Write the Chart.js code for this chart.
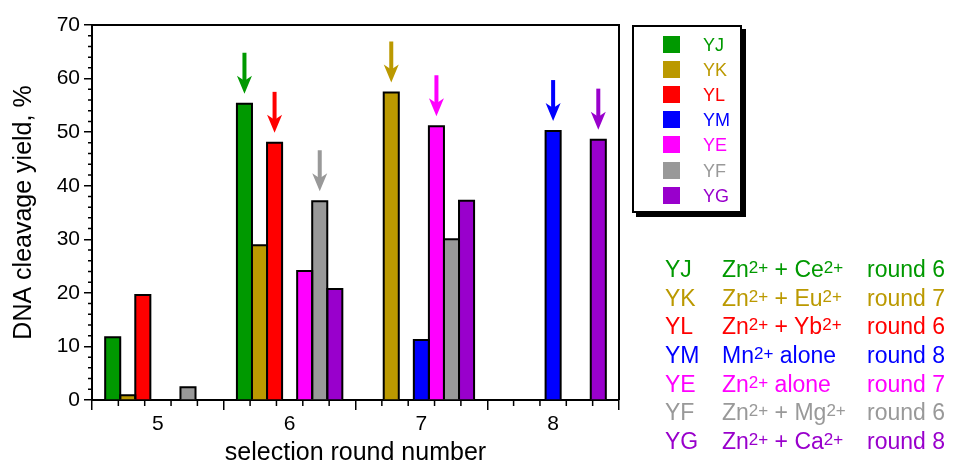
<!DOCTYPE html>
<html>
<head>
<meta charset="utf-8">
<script src="https://cdn.jsdelivr.net/npm/chart.js@4.4.1/dist/chart.umd.min.js"></script>
<style>
    html, body { margin: 0; padding: 0; background: #fff; }
    body { width: 953px; height: 464px; position: relative; overflow: hidden; font-family: "Liberation Sans", Arial, sans-serif; }
    #chart { position: absolute; left: 0; top: 0; }
    #legend { position: absolute; left: 632px; top: 25px; width: 106px; height: 184px; border: 2px solid #000; box-shadow: 4px 4px 0 #000; background: #fff; }
    .sw { position: absolute; left: 29px; width: 17px; height: 17px; }
    .lt { position: absolute; left: 69px; font-size: 18px; line-height: 17px; }
    .row { position: absolute; left: 0; font-size: 23px; line-height: 28px; white-space: nowrap; }
    .row span { position: absolute; top: 0; }
    sup { font-size: 17px; position: relative; top: -4px; vertical-align: baseline; line-height: 0; }
</style>
</head>
<body>
<canvas id="chart" width="953" height="464"></canvas>
<div id="legend"></div>
<div id="table"></div>
<script>
const rounds = ["5", "6", "7", "8"];
const codes = ["YJ", "YK", "YL", "YM", "YE", "YF", "YG"];
const colors = ["#009900", "#bb9900", "#ff0000", "#0000ff", "#ff00ff", "#999999", "#9900cc"];

// cleavage yield (%) per round; null = no bar
const yjYield = [11.7, 55.3, null, null];
const ykYield = [0.9, 28.9, 57.4, null];
const ylYield = [19.6, 48.0, null, null];
const ymYield = [null, null, 11.2, 50.2];
const yeYield = [null, 24.1, 51.1, null];
const yfYield = [2.4, 37.1, 30.0, null];
const ygYield = [null, 20.7, 37.2, 48.6];

// metal ions used and the round that was picked (arrow)
const ions = [["Zn", "Ce"], ["Zn", "Eu"], ["Zn", "Yb"], ["Mn"], ["Zn"], ["Zn", "Mg"], ["Zn", "Ca"]];
const picks = ["6", "7", "6", "8", "7", "6", "8"];

const yTicks = [0, 10, 20, 30, 40, 50, 60, 70];

const series = [yjYield, ykYield, ylYield, ymYield, yeYield, yfYield, ygYield];

// black outline round each bar, one shared line between neighbours
const outlines = {
    id: "outlines",
    afterDatasetsDraw(chart) {
        const ctx = chart.ctx;
        ctx.save();
        ctx.strokeStyle = "#000";
        ctx.lineWidth = 2;
        ctx.lineJoin = "miter";
        series.forEach((data, i) => {
            chart.getDatasetMeta(i).data.forEach((el, j) => {
                if (data[j] === null || !el) return;
                const left = el.x - el.width / 2;
                const right = el.x + el.width / 2;
                ctx.beginPath();
                ctx.moveTo(left, el.base);
                ctx.lineTo(left, el.y);
                ctx.lineTo(right, el.y);
                ctx.lineTo(right, el.base);
                ctx.stroke();
            });
        });
        ctx.restore();
    }
};

const frame = {
    id: "frame",
    afterDraw(chart) {
        const { ctx, chartArea: a, scales: { x, y } } = chart;
        ctx.save();
        ctx.strokeStyle = "#000";
        ctx.lineWidth = 2;
        ctx.beginPath();
        ctx.moveTo(a.left, a.top);
        ctx.lineTo(a.right, a.top);
        ctx.lineTo(a.right, a.bottom);
        ctx.stroke();

        // minor ticks
        ctx.lineWidth = 1.5;
        ctx.beginPath();
        for (let v = y.min; v <= y.max; v += 2) {
            if (v % 10 === 0) continue;
            const py = y.getPixelForValue(v);
            ctx.moveTo(a.left - 4, py);
            ctx.lineTo(a.left, py);
        }
        const step = x.getPixelForValue(1) - x.getPixelForValue(0);
        rounds.forEach((r, i) => {
            const start = x.getPixelForValue(i) - step / 2;
            for (let k = 1; k < 5; k++) {
                const px = start + step * k / 5;
                ctx.moveTo(px, a.bottom);
                ctx.lineTo(px, a.bottom + 6);
            }
        });
        ctx.stroke();

        // arrows above the picked rounds
        picks.forEach((round, i) => {
            const el = chart.getDatasetMeta(i).data[rounds.indexOf(round)];
            if (!el) return;
            const cx = el.x;
            const tip = el.y - 10;
            const top = tip - 41;
            ctx.fillStyle = colors[i];
            ctx.fillRect(cx - 2, top, 4, 32);
            ctx.beginPath();
            ctx.moveTo(cx, tip);
            ctx.lineTo(cx - 7.5, tip - 18);
            ctx.lineTo(cx, tip - 13);
            ctx.lineTo(cx + 7.5, tip - 18);
            ctx.closePath();
            ctx.fill();
        });
        ctx.restore();
    }
};

Chart.defaults.font.family = '"Liberation Sans", Arial, sans-serif';
Chart.defaults.color = "#000";

new Chart(document.getElementById("chart"), {
    type: "bar",
    data: {
        labels: rounds,
        datasets: series.map((data, i) => ({
            label: codes[i],
            data: data,
            backgroundColor: colors[i],
            borderWidth: 0,
            categoryPercentage: 0.8,
            barPercentage: 1.0
        }))
    },
    options: {
        responsive: false,
        animation: false,
        layout: { padding: { left: 0, right: 334, top: 25, bottom: 0 } },
        plugins: { legend: { display: false }, tooltip: { enabled: false } },
        scales: {
            x: {
                z: 1,
                afterFit: (s) => { s.height = 64; },
                grid: { offset: true, drawOnChartArea: false, tickLength: 10, color: "#000", lineWidth: 1.5 },
                border: { color: "#000", width: 2 },
                ticks: { font: { size: 21 }, padding: 2 },
                title: {
                    display: true,
                    text: "selection round number",
                    font: { size: 25, lineHeight: 0.85 },
                    padding: { top: 0, bottom: 0 }
                }
            },
            y: {
                z: 1,
                min: 0,
                max: 70,
                afterFit: (s) => { s.width = 92; },
                afterBuildTicks: (s) => { s.ticks = yTicks.map(v => ({ value: v })); },
                grid: { drawOnChartArea: false, tickLength: 8, color: "#000", lineWidth: 1.5 },
                border: { color: "#000", width: 2 },
                ticks: { font: { size: 21 }, padding: 4 },
                title: {
                    display: true,
                    text: "DNA cleavage yield, %",
                    font: { size: 25, lineHeight: 0.85 },
                    padding: { top: 13, bottom: 0 }
                }
            }
        }
    },
    plugins: [outlines, frame]
});

// legend box
const legend = document.getElementById("legend");
codes.forEach((code, i) => {
    const top = 9 + 25.1 * i;
    legend.insertAdjacentHTML("beforeend",
        `<div class="sw" style="top:${top}px;background:${colors[i]}"></div>` +
        `<div class="lt" style="top:${top + 1}px;color:${colors[i]}">${code}</div>`);
});

// description table
const table = document.getElementById("table");
codes.forEach((code, i) => {
    const ion = ions[i];
    const desc = ion.length === 1
        ? `${ion[0]}<sup>2+</sup> alone`
        : `${ion[0]}<sup>2+</sup> + ${ion[1]}<sup>2+</sup>`;
    const top = 277 - 21.9 + 28.67 * i;
    table.insertAdjacentHTML("beforeend",
        `<div class="row" style="top:${top}px;color:${colors[i]}">` +
        `<span style="left:665px">${code}</span>` +
        `<span style="left:722px">${desc}</span>` +
        `<span style="left:867px">round ${picks[i]}</span></div>`);
});
</script>
</body>
</html>
